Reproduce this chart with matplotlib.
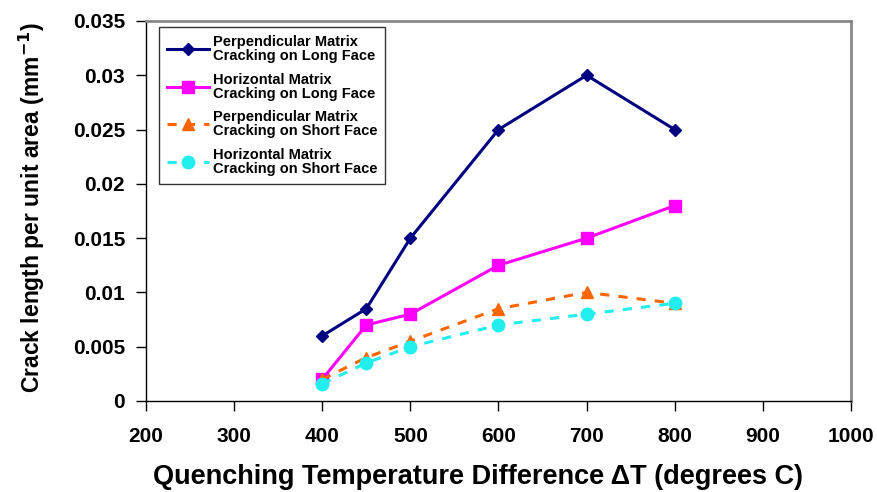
import matplotlib
matplotlib.use("Agg")
import matplotlib.pyplot as plt

temps = [400, 450, 500, 600, 700, 800]
perp_long = [0.006, 0.0085, 0.015, 0.025, 0.030, 0.025]
horiz_long = [0.002, 0.007, 0.008, 0.0125, 0.015, 0.018]
perp_short = [0.002, 0.004, 0.0055, 0.0085, 0.010, 0.009]
horiz_short = [0.0016, 0.0035, 0.005, 0.007, 0.008, 0.009]

labels = [
    "Perpendicular Matrix\nCracking on Long Face",
    "Horizontal Matrix\nCracking on Long Face",
    "Perpendicular Matrix\nCracking on Short Face",
    "Horizontal Matrix\nCracking on Short Face",
]

plt.rcParams["font.family"] = ["Liberation Sans", "DejaVu Sans"]
plt.rcParams["font.weight"] = "bold"

fig = plt.figure(figsize=(8.78, 4.92), dpi=100)
ax = fig.add_axes([146 / 878, 1 - 401 / 492, 705 / 878, 380 / 492])

ax.plot(temps, perp_long, color="#000080", lw=2.2, marker="D", ms=6, label=labels[0])
ax.plot(temps, horiz_long, color="#FF00FF", lw=2.2, marker="s", ms=8, label=labels[1])
ax.plot(temps, perp_short, color="#FF6600", lw=2.2, ls=(0, (3, 3)), marker="^", ms=9, label=labels[2])
ax.plot(temps, horiz_short, color="#22EEEE", lw=2.2, ls=(0, (3, 3)), marker="o", ms=9, label=labels[3])

ax.set_xlim(200, 1000)
ax.set_ylim(0, 0.035)
ax.set_xticks(range(200, 1001, 100))
ax.set_yticks([0, 0.005, 0.01, 0.015, 0.02, 0.025, 0.03, 0.035])
ax.set_yticklabels(["0", "0.005", "0.01", "0.015", "0.02", "0.025", "0.03", "0.035"])
ax.tick_params(direction="out", length=7, width=1, labelsize=15)
ax.tick_params(axis="x", pad=12)
ax.tick_params(axis="y", pad=8)
for t in ax.get_xticklabels() + ax.get_yticklabels():
    t.set_fontweight("bold")

for s in ("top", "right"):
    ax.spines[s].set_color("#888888")
    ax.spines[s].set_linewidth(2)
for s in ("left", "bottom"):
    ax.spines[s].set_color("black")
    ax.spines[s].set_linewidth(1)

ax.set_xlabel("Quenching Temperature Difference ΔT (degrees C)", fontsize=19.5, fontweight="bold")
ax.set_ylabel("Crack length per unit area (mm$^{\\mathbf{-1}}$)", fontsize=16.5, fontweight="bold")
ax.xaxis.set_label_coords(0.471, -0.166)
ax.yaxis.set_label_coords(-0.140, 0.51)

leg = ax.legend(loc="upper left", bbox_to_anchor=(0.018, 0.984), borderaxespad=0,
                prop={"size": 10.5, "weight": "bold"},
                frameon=True, fancybox=False, handlelength=2.9, handletextpad=0.25,
                labelspacing=0.65, borderpad=0.55)
for t in leg.get_texts():
    t.set_linespacing(1.0)
leg.get_frame().set_edgecolor("black")
leg.get_frame().set_linewidth(1)

fig.savefig("out.png", dpi=100)
